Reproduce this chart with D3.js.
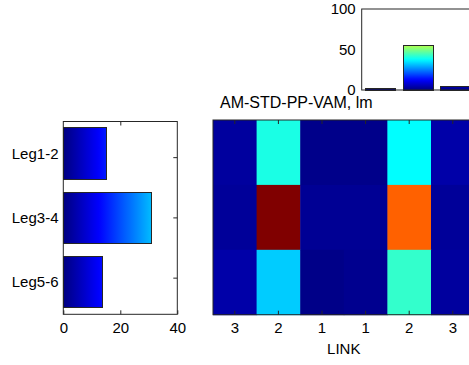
<!DOCTYPE html>
<html>
<meta charset="utf-8">
<title>AM-STD-PP-VAM</title>
<style>
  html, body { margin: 0; padding: 0; background: #fff; }
  svg text { font-family: "Liberation Sans", Arial, sans-serif; fill: #000; }
  .frame { fill: none; stroke: #262626; stroke-width: 1; }
  .bar { stroke: #262626; stroke-width: 1; shape-rendering: crispEdges; }
  .tick line { stroke: #262626; }
</style>
<body>
<div id="chart"></div>
<script src="https://d3js.org/d3.v7.min.js"></script>
<script>
// data
var linkLabels = ["3", "2", "1", "1", "2", "3"];
var legs = ["Leg1-2", "Leg3-4", "Leg5-6"];
var cellValues = [
    [3, 40, 1, 1, 37.5, 4],
    [2.5, 100, 2, 2, 78, 2.5],
    [4, 32.5, 0.8, 1.5, 42.5, 3]
];
var legMeans = [15, 31.1, 13.9];
var linkIds = ["1", "2", "3"];
var linkMeans = [1.5, 55.5, 4];
var title = "AM-STD-PP-VAM, lm";

var width = 469, height = 365;

// matlab jet colormap
function jet(t) {
    t = Math.max(0, Math.min(1, t));
    function c(v) { return Math.round(255 * Math.max(0, Math.min(1, v))); }
    return d3.rgb(c(1.5 - Math.abs(4 * t - 3)), c(1.5 - Math.abs(4 * t - 2)), c(1.5 - Math.abs(4 * t - 1))).toString();
}
var color = d3.scaleSequential(jet).domain([0, 100]);

var svg = d3.select("#chart").append("svg")
    .attr("width", width)
    .attr("height", height);
var defs = svg.append("defs");

function gradient(id, x1, y1, x2, y2, value) {
    var g = defs.append("linearGradient")
        .attr("id", id)
        .attr("gradientUnits", "userSpaceOnUse")
        .attr("x1", x1).attr("y1", y1)
        .attr("x2", x2).attr("y2", y2);
    d3.range(0, 1.0001, 0.05).forEach(function(t) {
        g.append("stop")
            .attr("offset", t)
            .attr("stop-color", color(value * t));
    });
    return "url(#" + id + ")";
}

// ---- heatmap ----
var hx = d3.scaleBand().domain(d3.range(linkLabels.length)).range([213, 474.6]);
var hy = d3.scaleBand().domain(d3.range(legs.length)).range([120, 314.7]);

var heat = svg.append("g");
cellValues.forEach(function(row, i) {
    heat.selectAll(null)
        .data(row)
        .enter().append("rect")
        .attr("x", function(d, j) { return hx(j); })
        .attr("y", hy(i))
        .attr("width", hx.bandwidth() + 0.5)
        .attr("height", hy.bandwidth() + 0.5)
        .attr("fill", function(d) { return color(d); });
});

var hxAxis = d3.axisBottom(hx).tickSize(-4).tickPadding(8)
    .tickFormat(function(d) { return linkLabels[d]; });
svg.append("g")
    .attr("transform", "translate(0," + hy.range()[1] + ")")
    .call(hxAxis)
    .call(function(g) { g.select(".domain").remove(); })
    .selectAll("text").style("font-size", "15px");
svg.append("g")
    .attr("transform", "translate(0," + hy.range()[0] + ")")
    .call(d3.axisTop(hx).tickSize(-4).tickFormat(""))
    .call(function(g) { g.select(".domain").remove(); });

svg.append("rect").attr("class", "frame")
    .attr("x", hx.range()[0]).attr("y", hy.range()[0])
    .attr("width", hx.range()[1] - hx.range()[0])
    .attr("height", hy.range()[1] - hy.range()[0]);

svg.append("text")
    .attr("x", 343.8).attr("y", 354)
    .attr("text-anchor", "middle")
    .style("font-size", "15px")
    .text("LINK");

svg.append("text")
    .attr("x", 220).attr("y", 108)
    .style("font-size", "16px")
    .text(title);

// ---- left bar chart ----
var lx = d3.scaleLinear().domain([0, 40]).range([63.3, 177.3]);
var ly = d3.scaleBand().domain(legs).range([121.5, 314.3]).paddingInner(0.2).paddingOuter(0.1);

svg.append("g").selectAll("rect")
    .data(legs)
    .enter().append("rect")
    .attr("class", "bar")
    .attr("x", lx(0))
    .attr("y", function(d) { return ly(d); })
    .attr("width", function(d, i) { return lx(legMeans[i]) - lx(0); })
    .attr("height", ly.bandwidth())
    .attr("fill", function(d, i) {
        return gradient("lg" + i, lx(0), 0, lx(legMeans[i]), 0, legMeans[i]);
    });

svg.append("g")
    .attr("transform", "translate(0,314.3)")
    .call(d3.axisBottom(lx).tickValues([0, 20, 40]).tickSize(-4).tickPadding(8))
    .call(function(g) { g.select(".domain").remove(); })
    .selectAll("text").style("font-size", "15px");
svg.append("g")
    .attr("transform", "translate(0,121.5)")
    .call(d3.axisTop(lx).tickValues([20]).tickSize(-4).tickFormat(""))
    .call(function(g) { g.select(".domain").remove(); });
svg.append("g")
    .attr("transform", "translate(177.3,0)")
    .call(d3.axisRight(ly.copy().paddingInner(0)).tickSize(-4).tickFormat(""))
    .call(function(g) { g.select(".domain").remove(); });
svg.append("g").selectAll("text")
    .data(legs)
    .enter().append("text")
    .attr("x", 58.5)
    .attr("y", function(d) { return ly(d) + ly.bandwidth() / 2; })
    .attr("dy", "0.35em")
    .attr("text-anchor", "end")
    .style("font-size", "15px")
    .text(function(d) { return d; });

svg.append("rect").attr("class", "frame")
    .attr("x", lx.range()[0]).attr("y", ly.range()[0])
    .attr("width", lx.range()[1] - lx.range()[0])
    .attr("height", ly.range()[1] - ly.range()[0]);

// ---- top bar chart ----
var tx = d3.scaleBand().domain(linkIds).range([361.7, 474.8]).paddingInner(0.2).paddingOuter(0.1);
var ty = d3.scaleLinear().domain([0, 100]).range([90, 9]);

svg.append("g").selectAll("rect")
    .data(linkIds)
    .enter().append("rect")
    .attr("class", "bar")
    .attr("x", function(d) { return tx(d); })
    .attr("y", function(d, i) { return ty(linkMeans[i]); })
    .attr("width", tx.bandwidth())
    .attr("height", function(d, i) { return ty(0) - ty(linkMeans[i]); })
    .attr("fill", function(d, i) {
        return gradient("tg" + i, 0, ty(0), 0, ty(linkMeans[i]), linkMeans[i]);
    });

svg.append("g")
    .attr("transform", "translate(361.7,0)")
    .call(d3.axisLeft(ty).tickValues([0, 50, 100]).tickSize(0).tickPadding(6))
    .call(function(g) { g.select(".domain").remove(); })
    .selectAll("text").style("font-size", "15px");

svg.append("rect").attr("class", "frame")
    .attr("x", tx.range()[0]).attr("y", ty.range()[1])
    .attr("width", tx.range()[1] - tx.range()[0])
    .attr("height", ty.range()[0] - ty.range()[1]);
</script>
</body>
</html>
